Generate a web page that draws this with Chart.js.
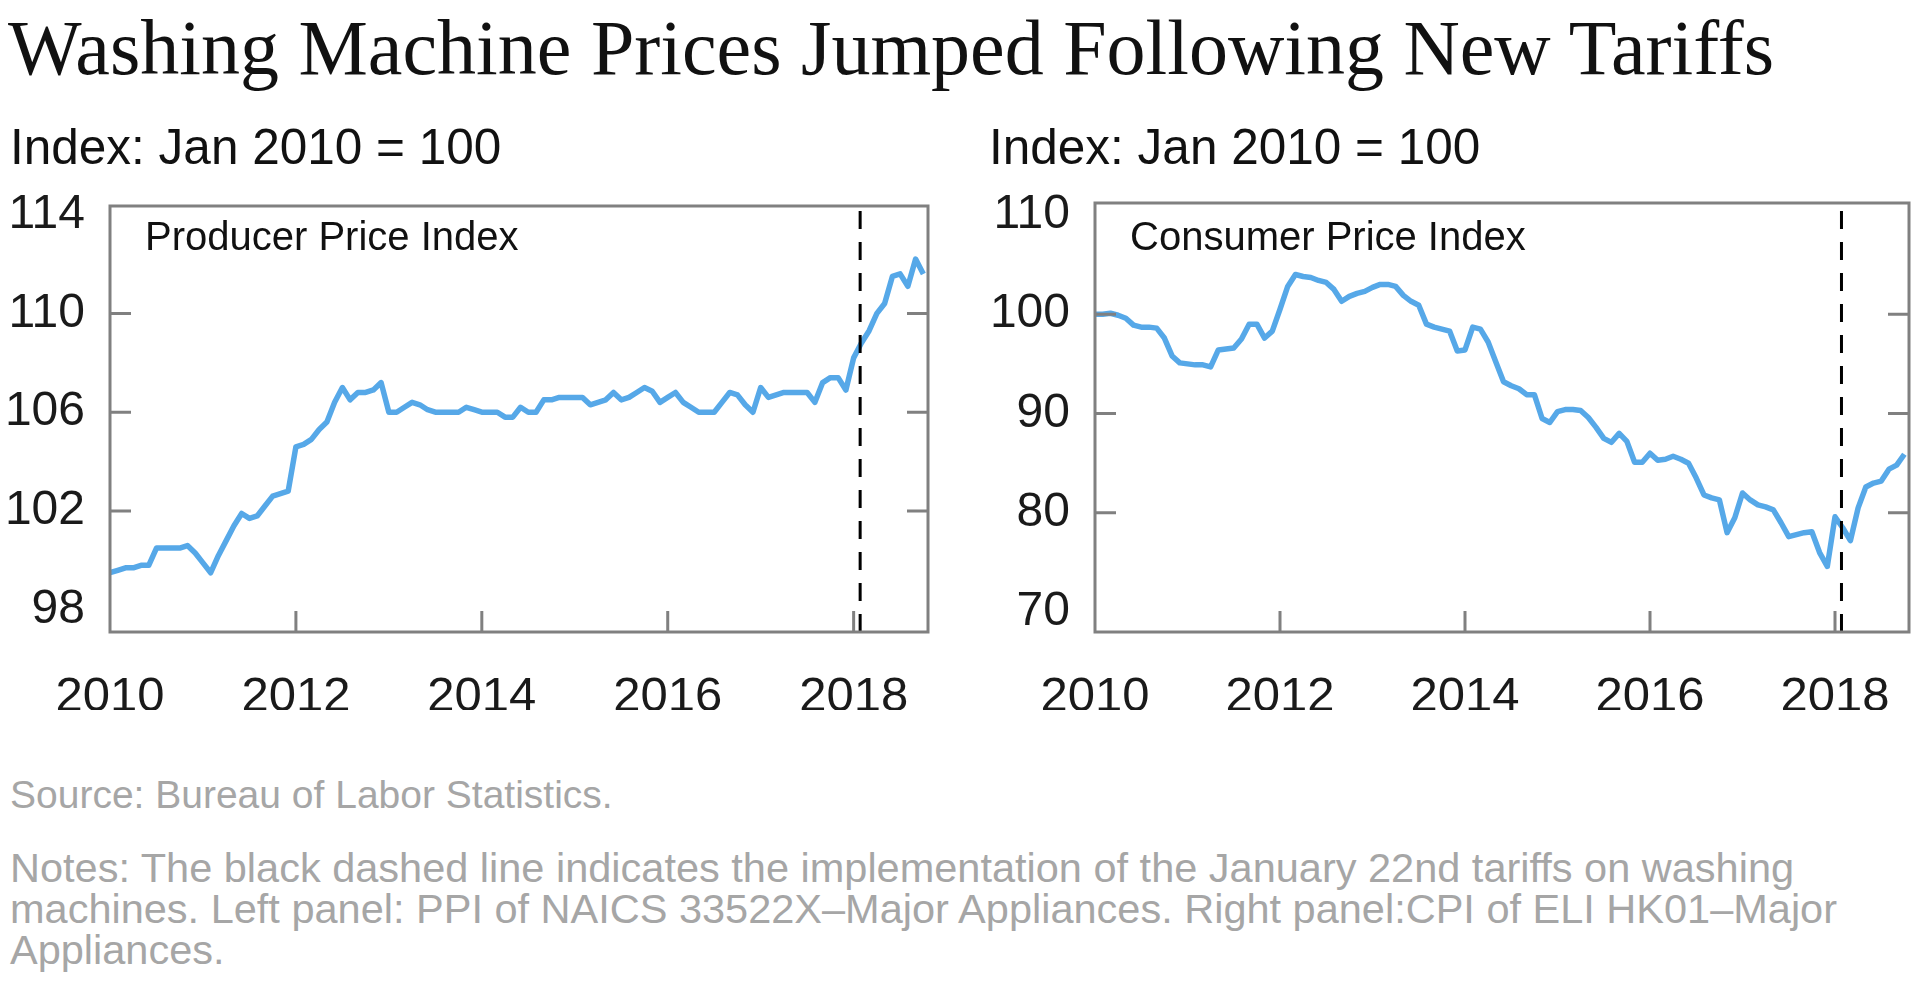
<!DOCTYPE html>
<html><head><meta charset="utf-8">
<script src="https://cdn.jsdelivr.net/npm/chart.js@4.4.0/dist/chart.umd.min.js"></script>
<style>
html,body{margin:0;padding:0;background:#fff;width:1920px;height:993px;overflow:hidden;font-family:"Liberation Sans",Arial,sans-serif;}
.t{position:absolute;white-space:nowrap;line-height:1;}
#title{left:8px;top:9px;font-family:"Liberation Serif","Times New Roman",serif;font-size:78px;color:#111;}
.idx{top:122px;font-size:49.5px;color:#111;}
.plab{top:216px;font-size:40px;color:#111;}
#src{left:10px;top:775px;font-size:39px;color:#a6a6a6;}
#notes{left:10px;top:847px;font-size:41.5px;line-height:41px;color:#a6a6a6;}
canvas{position:absolute;top:190px;}
</style></head>
<body>
<div class="t" id="title">Washing Machine Prices Jumped Following New Tariffs</div>
<div class="t idx" style="left:10px">Index: Jan 2010 = 100</div>
<div class="t idx" style="left:989px">Index: Jan 2010 = 100</div>
<canvas id="ppi" width="960" height="520" style="left:0"></canvas>
<canvas id="cpi" width="960" height="520" style="left:960px"></canvas>
<div class="t plab" style="left:145px">Producer Price Index</div>
<div class="t plab" style="left:1130px">Consumer Price Index</div>
<div class="t" id="src">Source: Bureau of Labor Statistics.</div>
<div class="t" id="notes">Notes: The black dashed line indicates the implementation of the January 22nd tariffs on washing<br>machines. Left panel: PPI of NAICS 33522X–Major Appliances. Right panel:CPI of ELI HK01–Major<br>Appliances.</div>
<script>
// ---- data (monthly, Jan 2010 .. Oct 2018) ----
const startYear = 2010;
const ppiValues = [
  99.5, 99.6, 99.7, 99.7, 99.8, 99.8, 100.5, 100.5, 100.5, 100.5, 100.6, 100.3,
  99.9, 99.5, 100.2, 100.8, 101.4, 101.9, 101.7, 101.8, 102.2, 102.6, 102.7, 102.8,
  104.6, 104.7, 104.9, 105.3, 105.6, 106.4, 107.0, 106.5, 106.8, 106.8, 106.9, 107.2,
  106.0, 106.0, 106.2, 106.4, 106.3, 106.1, 106.0, 106.0, 106.0, 106.0, 106.2, 106.1,
  106.0, 106.0, 106.0, 105.8, 105.8, 106.2, 106.0, 106.0, 106.5, 106.5, 106.6, 106.6,
  106.6, 106.6, 106.3, 106.4, 106.5, 106.8, 106.5, 106.6, 106.8, 107.0, 106.85, 106.4,
  106.6, 106.8, 106.4, 106.2, 106.0, 106.0, 106.0, 106.4, 106.8, 106.7, 106.3, 106.0,
  107.0, 106.6, 106.7, 106.8, 106.8, 106.8, 106.8, 106.4, 107.2, 107.4, 107.4, 106.9,
  108.2, 108.8, 109.3, 110.0, 110.4, 111.5, 111.6, 111.1, 112.2, 111.6
];
const cpiValues = [
  100.0, 100.0, 100.1, 99.9, 99.6, 98.9, 98.7, 98.7, 98.6, 97.6, 95.8, 95.1,
  95.0, 94.9, 94.9, 94.7, 96.4, 96.5, 96.6, 97.5, 99.0, 99.0, 97.6, 98.3,
  100.5, 102.8, 104.0, 103.8, 103.7, 103.4, 103.2, 102.5, 101.3, 101.8, 102.1, 102.3,
  102.7, 103.0, 103.0, 102.8, 101.9, 101.3, 100.9, 99.0, 98.7, 98.5, 98.3, 96.3,
  96.4, 98.7, 98.5, 97.2, 95.2, 93.2, 92.8, 92.5, 91.9, 91.9, 89.5, 89.1,
  90.2, 90.4, 90.4, 90.3, 89.6, 88.6, 87.5, 87.1, 88.0, 87.2, 85.1, 85.1,
  86.0, 85.3, 85.4, 85.7, 85.4, 85.0, 83.5, 81.8, 81.5, 81.3, 78.0, 79.5,
  82.0, 81.3, 80.8, 80.6, 80.3, 79.0, 77.6, 77.8, 78.0, 78.1, 76.0, 74.6,
  79.6, 78.5, 77.2, 80.5, 82.6, 83.0, 83.2, 84.4, 84.8, 85.9
];
const xTickValues = [2010, 2012, 2014, 2016, 2018];
const xTickLabels = ['2010', '2012', '2014', '2016', '2018'];
const ppiTicks = [98, 102, 106, 110, 114];
const cpiTicks = [70, 80, 90, 100, 110];
const tariffDate = 2018.07; // January 22nd, 2018

const FONT = '"Liberation Sans", Arial, sans-serif';
const frameColor = '#808080';

const framePlugin = {
  id: 'frame',
  afterDraw(chart) {
    const {ctx, chartArea: a} = chart;
    const xs = chart.scales.x, ys = chart.scales.y;
    const tl = 21, edge = 25;
    ctx.save();
    ctx.strokeStyle = frameColor;
    ctx.lineWidth = 3;
    ctx.beginPath();
    xs.ticks.forEach(t => {
      const px = xs.getPixelForValue(t.value);
      if (px - a.left < edge || a.right - px < edge) return;
      ctx.moveTo(px, a.bottom); ctx.lineTo(px, a.bottom - tl);
    });
    ys.ticks.forEach(t => {
      const py = ys.getPixelForValue(t.value);
      if (py - a.top < edge || a.bottom - py < edge) return;
      ctx.moveTo(a.left, py); ctx.lineTo(a.left + tl, py);
      ctx.moveTo(a.right, py); ctx.lineTo(a.right - tl, py);
    });
    ctx.stroke();
    ctx.strokeRect(a.left, a.top, a.right - a.left, a.bottom - a.top);
    ctx.restore();
  }
};

function makeChart(id, values, yMin, yMax, yTicks, yWidth, padding) {
  const pts = values.map((v, i) => ({x: startYear + i / 12, y: v}));
  return new Chart(document.getElementById(id), {
    type: 'line',
    data: {
      datasets: [
        {data: [{x: tariffDate, y: yMin}, {x: tariffDate, y: yMax}], borderColor: '#000',
         borderWidth: 3, borderDash: [18, 13], pointRadius: 0, order: 0},
        {data: pts, borderColor: '#56a8e8', borderWidth: 5.5, pointRadius: 0,
         tension: 0, borderJoinStyle: 'round', order: 1}
      ]
    },
    options: {
      responsive: false, animation: false, devicePixelRatio: 1,
      layout: {padding},
      plugins: {legend: {display: false}, tooltip: {enabled: false}},
      scales: {
        x: {
          type: 'linear', min: 2010, max: 2018.8,
          afterBuildTicks: s => { s.ticks = xTickValues.map(v => ({value: v})); },
          afterFit: s => { s.height = 78; s.paddingLeft = 0; s.paddingRight = 0; },
          grid: {display: false, drawTicks: false}, border: {display: false},
          ticks: {padding: 36, autoSkip: false, maxRotation: 0, color: '#1a1a1a',
                  font: {family: FONT, size: 49, lineHeight: 1.2},
                  callback: (v, i) => xTickLabels[i]}
        },
        y: {
          type: 'linear', min: yMin, max: yMax,
          afterBuildTicks: s => { s.ticks = yTicks.map(v => ({value: v})); },
          afterFit: s => { s.width = yWidth; s.paddingTop = 0; s.paddingBottom = 0; },
          grid: {display: false, drawTicks: false}, border: {display: false},
          ticks: {padding: 25, color: '#1a1a1a', font: {family: FONT, size: 48},
                  callback: v => String(v)}
        }
      }
    },
    plugins: [framePlugin]
  });
}

makeChart('ppi', ppiValues, 97.1, 114.35, ppiTicks, 110, {left: 0, right: 32, top: 16, bottom: 0});
makeChart('cpi', cpiValues, 68, 111.2, cpiTicks, 135, {left: 0, right: 11, top: 13, bottom: 0});
</script>
</body></html>
